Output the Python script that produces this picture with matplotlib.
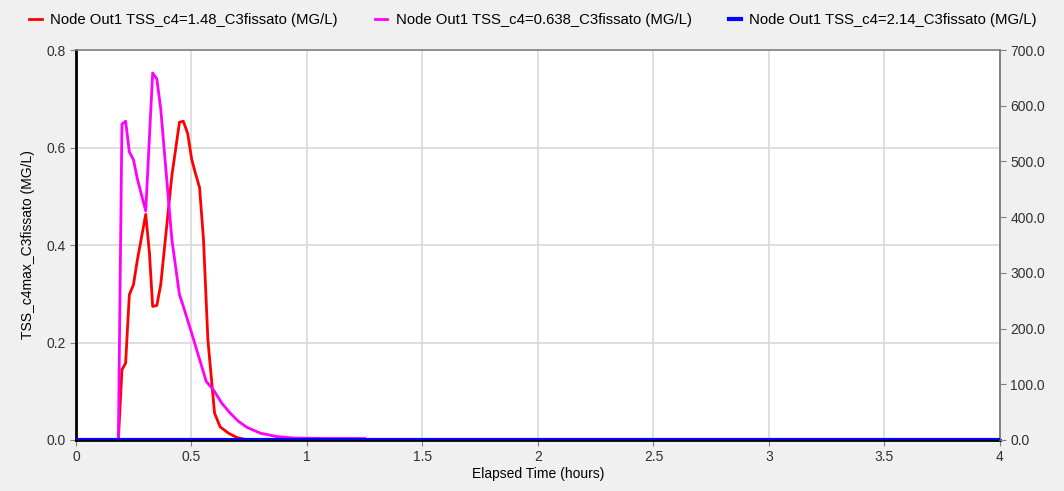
import matplotlib.pyplot as plt
import matplotlib.ticker as mticker

plt.rcParams['font.family'] = ['Liberation Sans', 'DejaVu Sans']

# Dati
t_red = [0.0, 0.1835, 0.199, 0.215, 0.231, 0.249, 0.266, 0.302, 0.318, 0.332, 0.350,
         0.367, 0.415, 0.448, 0.465, 0.484, 0.501, 0.516, 0.535, 0.552, 0.571,
         0.600, 0.624, 0.660, 0.697, 0.725, 0.75]
tss_red = [0.0, 0.0, 0.144, 0.158, 0.298, 0.319, 0.370, 0.463, 0.384, 0.274, 0.276,
           0.319, 0.542, 0.652, 0.654, 0.628, 0.576, 0.549, 0.518, 0.412, 0.206,
           0.055, 0.027, 0.014, 0.005, 0.002, 0.0]

t_mag = [0.0, 0.1835, 0.199, 0.215, 0.231, 0.249, 0.266, 0.302, 0.332, 0.350, 0.367,
         0.415, 0.448, 0.465, 0.501, 0.564, 0.595, 0.632, 0.668, 0.704, 0.740,
         0.798, 0.870, 0.942, 1.087, 1.25]
tss_mag = [0.0, 0.0, 0.648, 0.654, 0.591, 0.575, 0.535, 0.470, 0.753, 0.741, 0.679,
           0.412, 0.298, 0.274, 0.219, 0.120, 0.103, 0.075, 0.055, 0.038, 0.026,
           0.014, 0.007, 0.004, 0.003, 0.003]

t_blue = [0.0, 4.0]
tss_blue = [0.0, 0.0]

labels = ['Node Out1 TSS_c4=1.48_C3fissato (MG/L)',
          'Node Out1 TSS_c4=0.638_C3fissato (MG/L)',
          'Node Out1 TSS_c4=2.14_C3fissato (MG/L)']

fig = plt.figure(figsize=(10.64, 4.91), dpi=100, facecolor='#f0f0f0')
ax = fig.add_axes([0.0714, 0.1039, 0.8684, 0.7941])
ax2 = ax.twinx()

l1, = ax.plot(t_red, tss_red, color='#ff0000', lw=2, zorder=3)
l2, = ax.plot(t_mag, tss_mag, color='#ff00ff', lw=2, zorder=3)
l3, = ax2.plot(t_blue, tss_blue, color='#0000ff', lw=3, zorder=3)

ax.set_xlim(0, 4)
ax.set_ylim(0, 0.8)
ax2.set_ylim(0, 700)
ax.set_xticks([0, 0.5, 1, 1.5, 2, 2.5, 3, 3.5, 4])
ax.set_xticklabels(['0', '0.5', '1', '1.5', '2', '2.5', '3', '3.5', '4'])
ax.set_yticks([0, 0.2, 0.4, 0.6, 0.8])
ax.yaxis.set_major_formatter(mticker.FormatStrFormatter('%.1f'))
ax2.yaxis.set_major_formatter(mticker.FormatStrFormatter('%.1f'))
ax2.set_yticks([0, 100, 200, 300, 400, 500, 600, 700])

ax.grid(True, color='#d9d9d9', lw=1.2)
ax.set_axisbelow(True)
for s in ['left', 'bottom']:
    ax.spines[s].set_color('black')
    ax.spines[s].set_linewidth(2)
for s in ['top', 'right']:
    ax.spines[s].set_color('#808080')
    ax.spines[s].set_linewidth(1.2)
for s in ax2.spines.values():
    s.set_visible(False)
ax2.spines['right'].set_visible(True)
ax2.spines['right'].set_color('#808080')
ax2.spines['right'].set_linewidth(1.2)

ax.tick_params(labelsize=10, colors='#303030', length=4, color='#808080')
ax2.tick_params(labelsize=10, colors='#303030', length=4, color='#808080')
ax.set_xlabel('Elapsed Time (hours)', fontsize=10, labelpad=2)
ax.set_ylabel('TSS_c4max_C3fissato (MG/L)', fontsize=10, labelpad=8)

fig.legend([l1, l2, l3], labels, loc='upper left', bbox_to_anchor=(0.015, 1.0),
           ncol=3, frameon=False, fontsize=10.7, handlelength=0.85,
           handletextpad=0.55, columnspacing=2.5)

fig.savefig('out.png', dpi=100, facecolor=fig.get_facecolor())
